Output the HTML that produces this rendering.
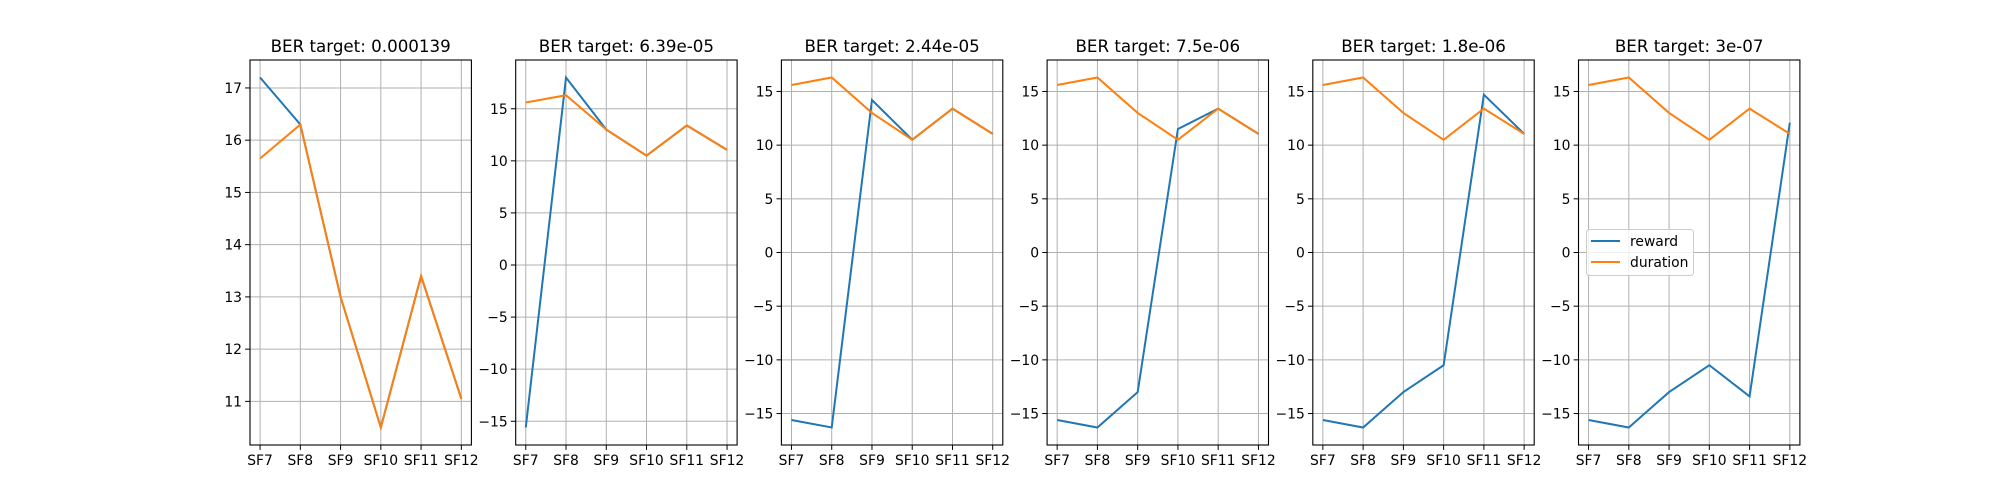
<!DOCTYPE html>
<html><head><meta charset="utf-8"><style>body{margin:0;background:#fff}svg{display:block;font-family:"DejaVu Sans","Liberation Sans",sans-serif}</style></head>
<body>
<svg id="fig" width="2000" height="500" viewBox="0 0 2000 500"></svg>
<script>
const categories = ["SF7","SF8","SF9","SF10","SF11","SF12"];
const titles = ["BER target: 0.000139","BER target: 6.39e-05","BER target: 2.44e-05","BER target: 7.5e-06","BER target: 1.8e-06","BER target: 3e-07"];
const reward1 = [17.2,16.3,13,10.5,13.4,11.05];
const reward2 = [-15.6,18,13,10.5,13.4,11.05];
const reward3 = [-15.6,-16.3,14.2,10.5,13.4,11.05];
const reward4 = [-15.6,-16.3,-13,11.5,13.4,11.05];
const reward5 = [-15.6,-16.3,-13,-10.5,14.7,11.05];
const reward6 = [-15.6,-16.3,-13,-10.5,-13.4,12.1];
const duration1 = [15.65,16.3,13,10.5,13.4,11.05];
const duration = [15.6,16.3,13,10.5,13.4,11.05];
const rewards = [reward1,reward2,reward3,reward4,reward5,reward6];
const durations = [duration1,duration,duration,duration,duration,duration];

const NS="http://www.w3.org/2000/svg";
const svg=document.getElementById('fig');
function mk(tag,attrs,parent){const e=document.createElementNS(NS,tag);for(const k in attrs)e.setAttribute(k,attrs[k]);(parent||svg).appendChild(e);return e;}
const W=221.4, GAP=44.3, L=250, T=60, B=445;
for(let i=0;i<6;i++){
  const x0=L+i*(W+GAP), x1=x0+W;
  const g=mk('g',{});
  
  
  const all=rewards[i].concat(durations[i]);
  const mn=Math.min(...all), mx=Math.max(...all), pad=(mx-mn)*0.05;
  const lo=mn-pad, hi=mx+pad;
  const sy=v=>B-(v-lo)/(hi-lo)*(B-T);
  const sx=k=>x0+(k+0.25)/5.5*W;
  const step=(hi-lo)>15?5:1;
  // grid + y ticks
  for(let t=Math.ceil(lo/step)*step;t<=hi;t+=step){
    const y=sy(t);
    const gl=mk('line',{x1:x0,x2:x1,y1:y,y2:y,stroke:'#b0b0b0','stroke-width':1},g);
    
    
    mk('line',{x1:x0-4.9,x2:x0,y1:y,y2:y,stroke:'#000','stroke-width':1},g);
    const tx=mk('text',{x:x0-8,y:y+5,'text-anchor':'end','font-size':13.9,fill:'#000'},g);
    tx.textContent=(t<0?'\u2212'+(-t):String(t));
    
    
  }
  categories.forEach((c,k)=>{
    const x=sx(k);
    const gl=mk('line',{x1:x,x2:x,y1:T,y2:B,stroke:'#b0b0b0','stroke-width':1},g);
    
    
    mk('line',{x1:x,x2:x,y1:B,y2:B+4.9,stroke:'#000','stroke-width':1},g);
    const tx=mk('text',{x:x,y:B+20,'text-anchor':'middle','font-size':13.9,fill:'#000'},g);
    tx.textContent=c;
    
    
  });
  const pr=mk('polyline',{points:rewards[i].map((v,k)=>sx(k)+','+sy(v)).join(' '),fill:'none',stroke:'#1f77b4','stroke-width':2},g);
  
  
  const pd=mk('polyline',{points:durations[i].map((v,k)=>sx(k)+','+sy(v)).join(' '),fill:'none',stroke:'#ff7f0e','stroke-width':2},g);
  
  
  const fr=mk('rect',{x:x0,y:T,width:W,height:B-T,fill:'none',stroke:'#000','stroke-width':1.1},g);
  
  
  const tt=mk('text',{x:(x0+x1)/2,y:T-8,'text-anchor':'middle','font-size':16.7,fill:'#000'},g);
  tt.textContent=titles[i];
  
  
}
</script>
<svg style="position:absolute;left:0;top:0" width="2000" height="500">
<g font-family="DejaVu Sans, Liberation Sans, sans-serif" font-size="13.9">
<rect x="1586.5" y="229.5" width="107" height="46" rx="3" fill="#fff" fill-opacity="0.8" stroke="#ccc"/>
<line x1="1591" x2="1620" y1="241" y2="241" stroke="#1f77b4" stroke-width="2"/>
<text x="1630" y="246">reward</text>
<line x1="1591" x2="1620" y1="262" y2="262" stroke="#ff7f0e" stroke-width="2"/>
<text x="1630" y="267">duration</text>
</g></svg>
</body></html>
